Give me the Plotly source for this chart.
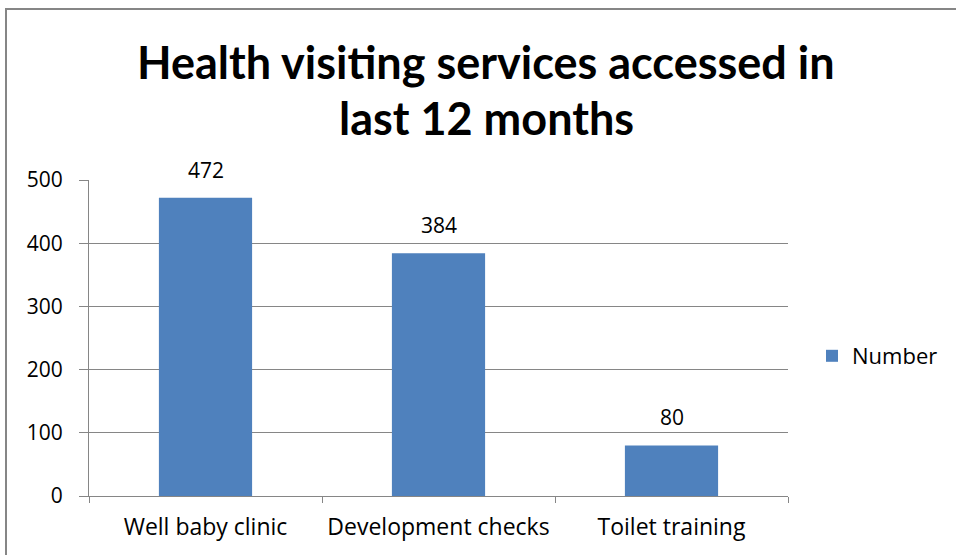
import plotly.graph_objects as go

categories = ["Well baby clinic", "Development checks", "Toilet training"]
values = [472, 384, 80]
series_name = "Number"
y_ticks = [0, 100, 200, 300, 400, 500]
title_lines = ["Health visiting services accessed in", "last 12 months"]

W, H = 956, 555
L, R, T, B = 89, 168, 180, 59
PW, PH = W - L - R, H - T - B

FONT = "Open Sans, Lato, sans-serif"

fig = go.Figure()
fig.add_trace(go.Bar(
    x=categories, y=values, name=series_name,
    marker=dict(color="#4F81BD", line=dict(width=0)),
    cliponaxis=False,
))

# data labels
for c, v in zip(categories, values):
    fig.add_annotation(x=c, y=v, text=str(v), showarrow=False,
                       yanchor="bottom", yshift=12,
                       font=dict(family=FONT, size=21, color="#000000"))

# title lines
for line, py in zip(title_lines, [62, 118]):
    fig.add_annotation(xref="paper", yref="paper",
                       x=(486 - L) / PW, y=(H - B - py) / PH,
                       xanchor="center", yanchor="middle", showarrow=False,
                       text="<b>" + line + "</b>",
                       font=dict(family="Lato, sans-serif", size=45, color="#000000"))

fig.update_layout(
    width=W, height=H,
    margin=dict(l=L, r=R, t=T, b=B, pad=0, autoexpand=False),
    paper_bgcolor="white", plot_bgcolor="white",
    bargap=0.6,
    showlegend=True,
    legend=dict(x=(812 - L) / PW, y=(H - B - 356) / PH, xanchor="left", yanchor="middle",
                font=dict(family=FONT, size=22, color="#000000"),
                bgcolor="rgba(0,0,0,0)"),
    font=dict(family=FONT, size=21, color="#000000"),
)

fig.update_yaxes(range=[0, 500], tickvals=y_ticks, showgrid=True, gridcolor="#868686", gridwidth=1,
                 showline=True, linecolor="#868686", linewidth=1,
                 ticks="outside", ticklen=9, tickcolor="#868686",
                 ticklabelstandoff=12, automargin=False,
                 tickfont=dict(family=FONT, size=21, color="#000000"), zeroline=False)
fig.update_xaxes(showline=True, linecolor="#868686", linewidth=1,
                 ticks="outside", ticklen=6, tickcolor="#868686", tickson="boundaries",
                 ticklabelstandoff=10, tickangle=0, automargin=False,
                 tickfont=dict(family=FONT, size=23, color="#000000"), range=[-0.5, 2.5])

fig.add_shape(type="rect", xref="paper", yref="paper",
              x0=(6 - L) / PW, x1=1.5,
              y0=-0.5, y1=(H - B - 9) / PH,
              line=dict(color="#868686", width=2), fillcolor="rgba(0,0,0,0)", layer="below")

fig.write_html("out.html", config={"displayModeBar": False},
               post_script="document.body.style.margin='0';document.body.style.overflow='hidden';")
